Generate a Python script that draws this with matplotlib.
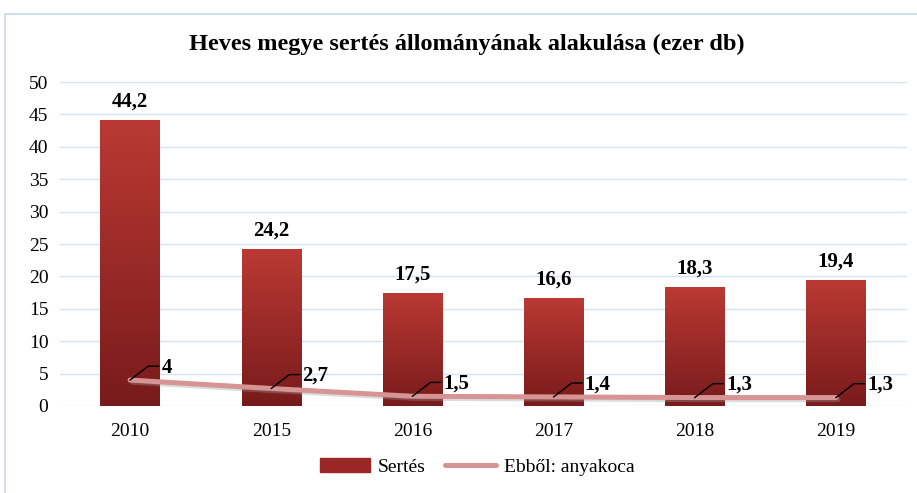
import numpy as np
import matplotlib.pyplot as plt
from matplotlib.patches import Rectangle
from matplotlib.lines import Line2D
from matplotlib.colors import LinearSegmentedColormap
from matplotlib import transforms

plt.rcParams['font.family'] = ['Liberation Serif', 'DejaVu Serif']

years = ['2010', '2015', '2016', '2017', '2018', '2019']
sertes = [44.2, 24.2, 17.5, 16.6, 18.3, 19.4]
anyakoca = [4, 2.7, 1.5, 1.4, 1.3, 1.3]

BAR_TOP = '#bb3934'
BAR_BOT = '#781b1b'
LINE_C = '#d69494'
GRID_C = '#d5e2f2'


def fmt(v):
    return f'{v:g}'.replace('.', ',')


fig = plt.figure(figsize=(9.17, 4.93), dpi=100)
ax = fig.add_axes([0.0649, 0.1765, 0.9237, 0.657])

# chart frame
fig.patches.append(Rectangle((5 / 917, -0.01), 1.0, 1 - 14 / 493 + 0.01, transform=fig.transFigure,
                             fill=False, edgecolor='#c9d8ec', linewidth=1.2))

x = np.arange(len(years))
bars = ax.bar(x, sertes, width=0.42, color='none', zorder=2)

# vertical gradient inside each bar
grad = np.linspace(0, 1, 256).reshape(-1, 1)
cmap = LinearSegmentedColormap.from_list('bar', [BAR_BOT, BAR_TOP])
for b in bars:
    x0, w, h = b.get_x(), b.get_width(), b.get_height()
    im = ax.imshow(grad, extent=(x0, x0 + w, 0, h), origin='lower', cmap=cmap,
                   aspect='auto', zorder=2)
    im.set_clip_path(b)
    ax.text(x0 + w / 2, h + 1.3, fmt(h), ha='center', va='bottom',
            fontsize=15, fontweight='bold')

# shadow + line
shadow = transforms.offset_copy(ax.transData, fig=fig, x=1.5, y=-1.5, units='points')
ax.plot(x, anyakoca, color='#999999', alpha=0.35, linewidth=3.6, transform=shadow,
        zorder=3, solid_capstyle='round')
ax.plot(x, anyakoca, color=LINE_C, linewidth=3.6, zorder=4, solid_capstyle='round')

# leader lines (in points, anchored at each data point) and labels
pts = transforms.Affine2D().scale(fig.dpi / 72)
for xi, v in zip(x, anyakoca):
    tr = pts + transforms.ScaledTranslation(xi, v, ax.transData)
    ax.add_line(Line2D([0, 13, 20.5], [0, 10, 10], color='black', lw=1.0,
                       transform=tr, zorder=5))
    ax.annotate(fmt(v), xy=(xi, v), xytext=(22.5, 9), textcoords='offset points',
                ha='left', va='center', fontsize=15, fontweight='bold', zorder=6)

ax.set_xlim(-0.5, len(years) - 0.5)
ax.set_ylim(0, 50)
ax.set_yticks(range(0, 51, 5))
ax.set_xticks(x)
ax.set_xticklabels(years)
ax.tick_params(length=0, labelsize=14)
ax.tick_params(axis='x', pad=12)
ax.tick_params(axis='y', pad=8)
ax.yaxis.grid(True, color=GRID_C, linewidth=1)
ax.set_axisbelow(True)
for s in ax.spines.values():
    s.set_visible(False)

fig.text(0.509, 0.909, 'Heves megye sertés állományának alakulása (ezer db)',
         ha='center', va='center', fontsize=17.5, fontweight='bold')

handles = [Rectangle((0, 0), 1, 1, color='#9a2726'),
           Line2D([], [], color=LINE_C, linewidth=3.6, solid_capstyle='round')]
fig.legend(handles, ['Sertés', 'Ebből: anyakoca'], loc='center', bbox_to_anchor=(0.52, 0.053),
           ncol=2, frameon=False, fontsize=14, handlelength=2.6, columnspacing=1.0,
           handletextpad=0.4)

fig.savefig('out.png', dpi=100)
